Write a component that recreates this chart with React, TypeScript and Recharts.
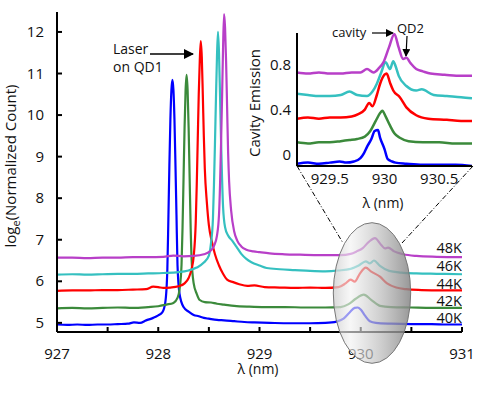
import React from "react"
import { LineChart, Line, XAxis, YAxis } from "recharts"

// main spectra, log scale, one trace per temperature: [lambda nm, loge count]
const temps = ["40K", "42K", "44K", "46K", "48K"]
const colors = ["#0000ff", "#3b8a3b", "#ff0000", "#35c0c0", "#b83fc8"]

const blue40K: [number, number][] = [
  [927.0, 4.96], [927.1, 4.95], [927.2, 4.96], [927.3, 4.95], [927.4, 4.96], [927.5, 4.96], [927.6, 4.97],
  [927.7, 4.98], [927.76, 5.01], [927.82, 5.0], [927.88, 5.06], [927.95, 5.12], [928.0, 5.18], [928.04, 5.25],
  [928.07, 5.5], [928.09, 6.3], [928.1, 7.5], [928.11, 8.8], [928.12, 9.9], [928.13, 10.6], [928.14, 10.85],
  [928.15, 10.6], [928.16, 9.9], [928.17, 8.8], [928.18, 7.6], [928.19, 6.4], [928.21, 5.7], [928.25, 5.38],
  [928.3, 5.27], [928.35, 5.19], [928.4, 5.16], [928.45, 5.12], [928.5, 5.1], [928.58, 5.07], [928.65, 5.06],
  [928.75, 5.04], [928.85, 5.02], [928.95, 5.01], [929.1, 5.0], [929.3, 4.99], [929.5, 4.99], [929.65, 5.0],
  [929.76, 5.03], [929.83, 5.1], [929.89, 5.25], [929.94, 5.36], [929.97, 5.37], [930.0, 5.32], [930.04, 5.18],
  [930.09, 5.04], [930.15, 5.0], [930.3, 4.98], [930.5, 4.97], [930.7, 4.97], [930.85, 4.96], [931.0, 4.96],
]

const green42K: [number, number][] = [
  [927.0, 5.35], [927.15, 5.36], [927.3, 5.35], [927.45, 5.36], [927.6, 5.37], [927.75, 5.36], [927.9, 5.38],
  [928.0, 5.4], [928.08, 5.44], [928.15, 5.48], [928.19, 5.6], [928.21, 5.8], [928.23, 6.4], [928.24, 7.3],
  [928.25, 8.5], [928.26, 9.7], [928.27, 10.6], [928.28, 10.97], [928.29, 10.6], [928.3, 9.7], [928.31, 8.5],
  [928.32, 7.3], [928.33, 6.5], [928.35, 5.95], [928.38, 5.7], [928.41, 5.55], [928.46, 5.5], [928.52, 5.49],
  [928.58, 5.46], [928.65, 5.44], [928.75, 5.41], [928.9, 5.39], [929.05, 5.38], [929.25, 5.38], [929.45, 5.37],
  [929.65, 5.37], [929.8, 5.38], [929.88, 5.45], [929.95, 5.58], [930.03, 5.68], [930.1, 5.56], [930.19, 5.41],
  [930.3, 5.38], [930.5, 5.37], [930.7, 5.36], [931.0, 5.36],
]

const red44K: [number, number][] = [
  [927.0, 5.77], [927.15, 5.78], [927.3, 5.78], [927.45, 5.79], [927.6, 5.79], [927.75, 5.8], [927.88, 5.81],
  [927.95, 5.87], [928.0, 5.86], [928.05, 5.84], [928.12, 5.85], [928.2, 5.88], [928.26, 5.95], [928.3, 6.08],
  [928.33, 6.3], [928.35, 6.6], [928.37, 7.4], [928.38, 8.3], [928.39, 9.4], [928.4, 10.5], [928.41, 11.3],
  [928.42, 11.78], [928.43, 11.4], [928.44, 10.5], [928.45, 9.5], [928.46, 8.7], [928.48, 7.9], [928.5, 7.35],
  [928.53, 6.95], [928.56, 6.65], [928.6, 6.38], [928.64, 6.18], [928.68, 6.04], [928.74, 5.98], [928.8, 5.93],
  [928.88, 5.89], [928.95, 5.9], [929.05, 5.86], [929.2, 5.85], [929.35, 5.84], [929.5, 5.85], [929.65, 5.84],
  [929.78, 5.86], [929.85, 5.95], [929.9, 6.04], [929.94, 5.99], [929.99, 6.18], [930.05, 6.33], [930.1, 6.24],
  [930.19, 6.11], [930.26, 5.95], [930.35, 5.85], [930.45, 5.81], [930.6, 5.79], [930.8, 5.78], [931.0, 5.78],
]

const cyan46K: [number, number][] = [
  [927.0, 6.16], [927.15, 6.17], [927.3, 6.16], [927.45, 6.17], [927.6, 6.18], [927.75, 6.18], [927.9, 6.19],
  [928.05, 6.2], [928.2, 6.22], [928.3, 6.26], [928.38, 6.33], [928.45, 6.45], [928.5, 6.62], [928.52, 6.9],
  [928.54, 7.5], [928.55, 8.3], [928.56, 9.3], [928.57, 10.4], [928.58, 11.4], [928.59, 12.0], [928.6, 11.5],
  [928.61, 10.5], [928.62, 9.4], [928.63, 8.5], [928.64, 7.8], [928.66, 7.3], [928.69, 7.1], [928.73, 6.98],
  [928.77, 6.84], [928.82, 6.66], [928.87, 6.54], [928.92, 6.46], [929.0, 6.38], [929.07, 6.32], [929.2, 6.29],
  [929.35, 6.27], [929.5, 6.25], [929.65, 6.24], [929.78, 6.26], [929.9, 6.3], [929.98, 6.38], [930.05, 6.48],
  [930.09, 6.43], [930.13, 6.5], [930.19, 6.37], [930.28, 6.25], [930.4, 6.21], [930.55, 6.19], [930.75, 6.18],
  [931.0, 6.17],
]

const magenta48K: [number, number][] = [
  [927.0, 6.57], [927.15, 6.57], [927.3, 6.56], [927.45, 6.57], [927.6, 6.57], [927.75, 6.58], [927.9, 6.58],
  [928.05, 6.59], [928.15, 6.62], [928.25, 6.6], [928.35, 6.61], [928.45, 6.65], [928.51, 6.72], [928.55, 6.85],
  [928.58, 7.1], [928.6, 7.6], [928.61, 8.3], [928.62, 9.3], [928.63, 10.4], [928.64, 11.6], [928.65, 12.43],
  [928.66, 12.1], [928.67, 11.3], [928.68, 10.2], [928.69, 9.1], [928.7, 8.4], [928.72, 7.7], [928.75, 7.2],
  [928.78, 6.98], [928.82, 6.84], [928.87, 6.76], [928.94, 6.72], [929.0, 6.7], [929.1, 6.67], [929.25, 6.65],
  [929.4, 6.64], [929.6, 6.63], [929.8, 6.63], [929.9, 6.66], [929.96, 6.72], [930.02, 6.8], [930.08, 6.95],
  [930.14, 7.04], [930.2, 6.88], [930.24, 6.79], [930.27, 6.81], [930.33, 6.72], [930.42, 6.65], [930.55, 6.61],
  [930.75, 6.59], [931.0, 6.58],
]

// inset: cavity emission, offset traces
const blueInset: [number, number][] = [
  [929.2, -0.08], [929.3, -0.07], [929.4, -0.08], [929.5, -0.07], [929.59, -0.06], [929.65, -0.07],
  [929.72, -0.06], [929.78, -0.03], [929.81, 0.01], [929.84, 0.07], [929.88, 0.14], [929.91, 0.21],
  [929.94, 0.22], [929.96, 0.15], [930.0, 0.05], [930.03, -0.04], [930.07, -0.06], [930.1, -0.07],
  [930.2, -0.08], [930.35, -0.09], [930.5, -0.09], [930.65, -0.09], [930.8, -0.1],
]
const greenInset: [number, number][] = [
  [929.2, 0.11], [929.3, 0.1], [929.4, 0.11], [929.5, 0.11], [929.6, 0.12], [929.68, 0.13], [929.75, 0.14],
  [929.82, 0.16], [929.87, 0.21], [929.92, 0.3], [929.96, 0.37], [929.98, 0.39], [930.01, 0.34], [930.05, 0.26],
  [930.09, 0.19], [930.14, 0.15], [930.22, 0.12], [930.35, 0.11], [930.5, 0.11], [930.65, 0.1], [930.8, 0.1],
]
const redInset: [number, number][] = [
  [929.2, 0.32], [929.3, 0.33], [929.4, 0.32], [929.5, 0.33], [929.6, 0.33], [929.7, 0.34], [929.76, 0.36],
  [929.82, 0.4], [929.86, 0.46], [929.89, 0.43], [929.93, 0.53], [929.96, 0.63], [930.0, 0.71], [930.02, 0.72],
  [930.05, 0.64], [930.08, 0.57], [930.14, 0.51], [930.2, 0.42], [930.29, 0.35], [930.4, 0.32], [930.57, 0.31],
  [930.7, 0.3], [930.8, 0.3],
]
const cyanInset: [number, number][] = [
  [929.2, 0.54], [929.3, 0.53], [929.4, 0.52], [929.5, 0.52], [929.6, 0.53], [929.68, 0.56], [929.75, 0.53],
  [929.84, 0.52], [929.89, 0.56], [929.93, 0.63], [929.97, 0.73], [930.01, 0.82], [930.05, 0.76], [930.08, 0.83],
  [930.1, 0.79], [930.13, 0.7], [930.2, 0.61], [930.29, 0.57], [930.34, 0.58], [930.45, 0.53], [930.57, 0.52],
  [930.7, 0.51], [930.8, 0.5],
]
const magentaInset: [number, number][] = [
  [929.2, 0.73], [929.3, 0.72], [929.4, 0.73], [929.5, 0.72], [929.6, 0.72], [929.7, 0.73], [929.78, 0.73],
  [929.84, 0.76], [929.9, 0.73], [929.95, 0.77], [929.99, 0.82], [930.04, 0.95], [930.09, 1.07], [930.13, 0.95],
  [930.17, 0.85], [930.2, 0.86], [930.24, 0.81], [930.29, 0.76], [930.35, 0.74], [930.42, 0.72], [930.55, 0.71],
  [930.7, 0.7], [930.8, 0.7],
]

const mainTicksX = [927, 927.5, 928, 928.5, 929, 929.5, 930, 930.5, 931]
const mainTicksY = [5, 6, 7, 8, 9, 10, 11, 12]
const insetTicksX = [929.5, 930, 930.5]
const insetTicksY = [0, 0.4, 0.8]

const mainSeries = [blue40K, green42K, red44K, cyan46K, magenta48K]
const insetSeries = [blueInset, greenInset, redInset, cyanInset, magentaInset]

const toRows = (pts: [number, number][]) => pts.map(([x, y]) => ({ x, y }))

const FONT = "'Open Sans', sans-serif"

const MainXTick = ({ x, y, payload }: any) => {
  const v = payload.value
  const major = Math.abs(v - Math.round(v)) < 1e-6
  return (
    <g>
      <line x1={x} y1={y} x2={x} y2={y - 5} stroke="#000" strokeWidth={2} />
      {major && (
        <text x={x} y={y + 27} textAnchor="middle" fontSize={15} fill="#111" fontFamily={FONT}>
          {v}
        </text>
      )}
    </g>
  )
}

const MainYTick = ({ x, y, payload }: any) => (
  <g>
    <line x1={x} y1={y} x2={x + 5} y2={y} stroke="#000" strokeWidth={2} />
    <text x={x - 13} y={y + 5} textAnchor="end" fontSize={15} fill="#111" fontFamily={FONT}>
      {payload.value}
    </text>
  </g>
)

const InsetXTick = ({ x, y, payload }: any) => (
  <text x={x} y={y + 18} textAnchor="middle" fontSize={15} fill="#111" fontFamily={FONT}>
    {payload.value}
  </text>
)

const InsetYTick = ({ x, y, payload }: any) => (
  <text x={x - 6} y={y + 5} textAnchor="end" fontSize={15} fill="#111" fontFamily={FONT}>
    {payload.value}
  </text>
)

export default function App() {
  return (
    <div style={{ position: "absolute", left: 0, top: 0, width: 484, height: 395, background: "#fff", fontFamily: FONT }}>
      <div style={{ position: "absolute", left: 0, top: 0 }}>
        <LineChart width={484} height={395} margin={{ top: 12, right: 22, left: 0, bottom: 33 }}>
          <XAxis
            type="number"
            dataKey="x"
            domain={[927, 931]}
            ticks={mainTicksX}
            allowDataOverflow
            height={30}
            tickSize={0}
            tickMargin={0}
            tickLine={false}
            tick={<MainXTick />}
            axisLine={{ stroke: "#000", strokeWidth: 2 }}
          />
          <YAxis
            type="number"
            dataKey="y"
            domain={[4.78, 12.48]}
            ticks={mainTicksY}
            allowDataOverflow
            width={57}
            tickSize={0}
            tickMargin={0}
            tickLine={false}
            tick={<MainYTick />}
            axisLine={{ stroke: "#000", strokeWidth: 2 }}
          />
          {mainSeries.map((s, i) => (
            <Line
              key={temps[i]}
              data={toRows(s)}
              dataKey="y"
              type="monotone"
              stroke={colors[i]}
              strokeWidth={2.2}
              dot={false}
              isAnimationActive={false}
            />
          ))}
        </LineChart>
      </div>

      {/* overlay: zoom ellipse, guide lines, labels */}
      <svg width={484} height={395} style={{ position: "absolute", left: 0, top: 0, pointerEvents: "none" }}>
        <defs>
          <linearGradient id="lens" x1="0" y1="0" x2="1" y2="0">
            <stop offset="0%" stopColor="#cfcfcf" stopOpacity={0.8} />
            <stop offset="22%" stopColor="#f2f2f2" stopOpacity={0.62} />
            <stop offset="60%" stopColor="#bcbcbc" stopOpacity={0.7} />
            <stop offset="100%" stopColor="#858585" stopOpacity={0.85} />
          </linearGradient>
          <marker id="arr" markerWidth="8" markerHeight="8" refX="7" refY="4" orient="auto" markerUnits="userSpaceOnUse">
            <path d="M0,0 L8,4 L0,8 z" fill="#000" />
          </marker>
          <marker id="arrBig" markerWidth="10" markerHeight="10" refX="9" refY="5" orient="auto" markerUnits="userSpaceOnUse">
            <path d="M0,0 L10,5 L0,10 z" fill="#000" />
          </marker>
        </defs>
        <ellipse cx={372} cy={293} rx={38.7} ry={70.3} fill="url(#lens)" stroke="#777" strokeWidth={1} />
        <line x1={297} y1={166} x2={343} y2={243} stroke="#000" strokeWidth={1} strokeDasharray="5 2 1 2" />
        <line x1={473} y1={166} x2={402} y2={243} stroke="#000" strokeWidth={1} strokeDasharray="5 2 1 2" />

        <text transform="translate(16,166) rotate(-90)" textAnchor="middle" fontSize={15} fill="#111" fontFamily={FONT}>
          log<tspan dy={4} fontSize={11}>e</tspan>
          <tspan dy={-4}>(Normalized Count)</tspan>
        </text>
        <text x={258} y={374} textAnchor="middle" fontSize={14} fill="#111" fontFamily={FONT}>
          λ (nm)
        </text>

        <text x={113} y={54} fontSize={14} fill="#111" fontFamily={FONT}>Laser</text>
        <text x={113} y={72} fontSize={14} fill="#111" fontFamily={FONT}>on QD1</text>
        <line x1={150} y1={54} x2={193} y2={54} stroke="#000" strokeWidth={1.5} markerEnd="url(#arrBig)" />

        {temps.map((t, i) => (
          <text key={t} x={462} y={[323, 306, 289, 271, 253][i]} textAnchor="end" fontSize={14.5} fill="#111" fontFamily={FONT}>
            {t}
          </text>
        ))}

        <text transform="translate(260,103) rotate(-90)" textAnchor="middle" fontSize={15} fill="#111" fontFamily={FONT}>
          Cavity Emission
        </text>
        <text x={383} y={208} textAnchor="middle" fontSize={14} fill="#111" fontFamily={FONT}>
          λ (nm)
        </text>
        <text x={332} y={37} fontSize={13} fill="#111" fontFamily={FONT}>cavity</text>
        <line x1={372} y1={33} x2={393} y2={33} stroke="#000" strokeWidth={1.2} markerEnd="url(#arr)" />
        <text x={397} y={33} fontSize={13} fill="#111" fontFamily={FONT}>QD2</text>
        <line x1={407} y1={36} x2={406} y2={56} stroke="#000" strokeWidth={1.2} markerEnd="url(#arr)" />
      </svg>

      <div style={{ position: "absolute", left: 240, top: 20 }}>
        <LineChart width={240} height={200} margin={{ top: 13, right: 8, left: 0, bottom: 29 }}>
          <XAxis
            type="number"
            dataKey="x"
            domain={[929.2, 930.8]}
            ticks={insetTicksX}
            allowDataOverflow
            height={25}
            tickSize={0}
            tickMargin={0}
            tickLine={false}
            tick={<InsetXTick />}
            axisLine={{ stroke: "#000", strokeWidth: 2 }}
          />
          <YAxis
            type="number"
            dataKey="y"
            domain={[-0.1, 1.08]}
            ticks={insetTicksY}
            allowDataOverflow
            width={57}
            tickSize={0}
            tickMargin={0}
            tickLine={false}
            tick={<InsetYTick />}
            axisLine={{ stroke: "#000", strokeWidth: 2 }}
          />
          {insetSeries.map((s, i) => (
            <Line
              key={temps[i]}
              data={toRows(s)}
              dataKey="y"
              type="monotone"
              stroke={colors[i]}
              strokeWidth={2.5}
              dot={false}
              isAnimationActive={false}
            />
          ))}
        </LineChart>
      </div>
    </div>
  )
}
